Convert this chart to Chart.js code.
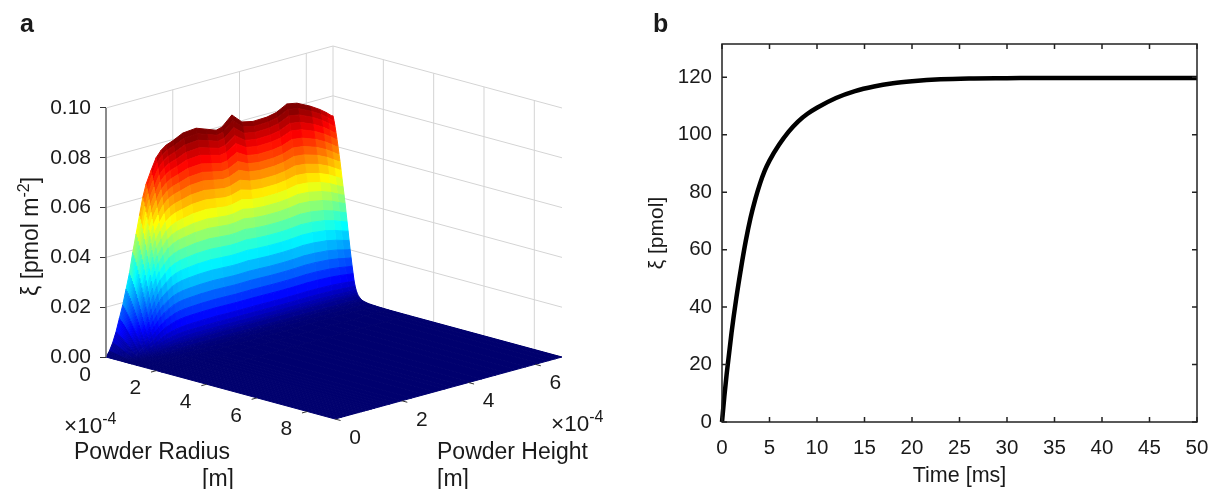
<!DOCTYPE html>
<html>
<head>
<meta charset="utf-8">
<script src="https://cdn.jsdelivr.net/npm/chart.js"></script>
<style>
    html, body { margin: 0; padding: 0; background: #fff; }
    canvas { position: absolute; top: 0; }
    #surface { left: 0; }
    #uptake { left: 610px; }
</style>
</head>
<body>
<canvas id="surface" width="610" height="489"></canvas>
<canvas id="uptake" width="599" height="489"></canvas>
<script>
// panel a. radius and height are in 1e-4 m
const radiusTicks = [0, 2, 4, 6, 8];
const heightTicks = [0, 2, 4, 6];
const xiTicks = [0, 0.02, 0.04, 0.06, 0.08, 0.10];
const radiusMax = 9.1;
const heightMax = 6.8;

// xi along the ridge (radius 0) at each height
const heightGrid = [0, .1, .2, .3, .4, .5, .6, .7, .8, .9, 1, 1.1, 1.2, 1.35, 1.5, 1.65, 1.8, 2, 2.3, 2.7, 3, 3.3, 3.47, 3.77, 4.07, 4.4, 4.82, 5.1, 5.42, 5.72, 6.11, 6.4, 6.6, 6.77, 6.8];
const ridgeXi = [0, .002, .005, .009, .014, .019, .025, .031, .039, .046, .053, .060, .065, .070, .0745, .077, .0785, .0795, .0815, .082, .0805, .079, .0796, .0834, .0795, .0785, .0787, .0795, .0818, .081, .0784, .076, .074, .072, .072];
// same line as seen in the lower bands, where the spike has died away
const lowerBandXi = [0, .002, .005, .009, .014, .019, .025, .031, .039, .046, .053, .060, .065, .070, .0745, .077, .0785, .0795, .0805, .081, .0805, .0800, .0800, .0802, .0800, .0795, .0795, .0800, .0808, .0805, .0790, .0765, .074, .072, .072];

// how far xi has dropped from the ridge at each radius
const radiusGrid = [0, .04, .08, .12, .16, .2, .24, .28, .32, .36, .4, .44, .48, .52, .56, .6, .64, .68, .72, .76, .8, .84, .88, .92, .96, 1, 1.1, 1.2, 1.4, 1.7, 2.2, 3, 9.1];
const radiusFalloff = [1, .975, .945, .91, .875, .835, .795, .755, .71, .665, .62, .575, .53, .48, .43, .38, .33, .28, .235, .19, .15, .11, .083, .062, .047, .036, .02, .012, .006, .003, .001, .0005, 0];

// panel b
const timeMs = [0, .25, .5, 1, 1.5, 2, 2.5, 3, 3.5, 4, 4.5, 5, 6, 7, 8, 9, 10, 12, 14, 16, 18, 20, 23, 26, 30, 35, 40, 45, 50];
const xiPmol = [0, 9, 17, 31, 43, 53.5, 63, 71, 77.5, 83, 87.5, 91, 96.5, 101, 104.6, 107.3, 109.4, 112.8, 115.2, 116.8, 117.9, 118.6, 119.3, 119.6, 119.7, 119.8, 119.8, 119.8, 119.8];

const FONT = '"Liberation Sans", Arial, sans-serif';
const colorTop = 0.079;

// orthographic view of the 3d box onto the x/y scales of the chart
function project(r, h, z) {
    return {
        x: r * 229 / radiusMax + h * 227 / heightMax,
        y: z - r * 0.002735 + h * 0.00366
    };
}

function jet(t) {
    t = Math.min(1, t);
    const c = v => Math.round(255 * Math.min(1, Math.max(0, v)));
    // the navy end of the picture is a bit darker than plain jet
    const blue = t < 0.125 ? 0.43 + 4.56 * t : 1.5 - Math.abs(4 * t - 1);
    return 'rgb(' + c(1.5 - Math.abs(4 * t - 3)) + ',' + c(1.5 - Math.abs(4 * t - 2)) + ',' + c(blue) + ')';
}

function lineSet(points, color, width) {
    return {
        data: points, showLine: true, pointRadius: 0, borderColor: color,
        borderWidth: width, clip: false, fill: false
    };
}

function quadSet(a, b, c, d, color) {
    return {
        data: [a, b, c, d, a], showLine: true, pointRadius: 0, clip: false,
        borderColor: color, borderWidth: 1, backgroundColor: color, fill: 'shape'
    };
}

function buildSurfaceDatasets() {
    const sets = [];
    const wall = '#d4d4d4';

    // back walls
    xiTicks.forEach(z => {
        sets.push(lineSet([project(0, 0, z), project(0, heightMax, z), project(radiusMax, heightMax, z)], wall, 1));
    });
    heightTicks.slice(1).concat(heightMax).forEach(h => {
        sets.push(lineSet([project(0, h, 0), project(0, h, 0.1)], wall, 1));
    });
    radiusTicks.slice(1).forEach(r => {
        sets.push(lineSet([project(r, heightMax, 0), project(r, heightMax, 0.1)], wall, 1));
    });

    // surface, back to front. the spike only shows in the top rows
    const zAt = (i, j) => {
        const f = radiusFalloff[i];
        return f * (f * f * ridgeXi[j] + (1 - f * f) * lowerBandXi[j]);
    };
    for (let i = 0; i < radiusGrid.length - 1; i++) {
        for (let j = heightGrid.length - 2; j >= 0; j--) {
            const mean = (zAt(i, j) + zAt(i + 1, j) + zAt(i, j + 1) + zAt(i + 1, j + 1)) / 4;
            sets.push(quadSet(
                project(radiusGrid[i], heightGrid[j], zAt(i, j)),
                project(radiusGrid[i], heightGrid[j + 1], zAt(i, j + 1)),
                project(radiusGrid[i + 1], heightGrid[j + 1], zAt(i + 1, j + 1)),
                project(radiusGrid[i + 1], heightGrid[j], zAt(i + 1, j)),
                jet(mean / colorTop)
            ));
        }
    }

    // z axis and the little ticks on the floor edges
    sets.push(lineSet([project(0, 0, 0), project(0, 0, 0.1)], '#6e6e6e', 1.6));
    radiusTicks.slice(1).forEach(r => {
        sets.push(lineSet([project(r, 0, 0), project(r, -0.16, 0)], '#333', 1));
    });
    heightTicks.forEach(h => {
        sets.push(lineSet([project(radiusMax, h, 0), project(radiusMax + 0.22, h, 0)], '#333', 1));
    });

    // chart.js paints the last dataset first
    return sets.reverse();
}

// text with a raised part, optionally turned 90 degrees
function richText(ctx, x, y, parts, rotated) {
    ctx.save();
    ctx.translate(x, y);
    if (rotated) ctx.rotate(-Math.PI / 2);
    ctx.textAlign = 'left';
    ctx.textBaseline = 'alphabetic';
    ctx.fillStyle = '#1a1a1a';
    let pos = 0;
    parts.forEach(p => {
        ctx.font = (p.weight || '') + ' ' + p.size + 'px ' + FONT;
        ctx.fillText(p.text, pos, p.rise ? -p.rise : 0);
        pos += ctx.measureText(p.text).width;
    });
    ctx.restore();
}

const surfaceText = {
    id: 'surfaceText',
    afterDraw(chart) {
        const ctx = chart.ctx;
        const sx = chart.scales.x;
        const sy = chart.scales.y;
        ctx.save();
        ctx.font = '21px ' + FONT;
        ctx.fillStyle = '#1a1a1a';
        ctx.textAlign = 'center';
        ctx.textBaseline = 'middle';
        radiusTicks.forEach(r => {
            const p = project(r, 0, 0);
            ctx.fillText(String(r), sx.getPixelForValue(p.x) - 21, sy.getPixelForValue(p.y) + 18);
        });
        heightTicks.forEach(h => {
            const p = project(radiusMax, h, 0);
            ctx.fillText(String(h), sx.getPixelForValue(p.x) + 20, sy.getPixelForValue(p.y) + 19);
        });
        ctx.restore();

        richText(ctx, 20, 32, [{ text: 'a', size: 25, weight: 'bold' }]);
        richText(ctx, 38, 296, [{ text: 'ξ [pmol m', size: 23 }, { text: '-2', size: 16, rise: 9 }, { text: ']', size: 23 }], true);
        richText(ctx, 64, 433, [{ text: '×10', size: 22.5 }, { text: '-4', size: 16, rise: 9 }]);
        richText(ctx, 551, 431, [{ text: '×10', size: 22.5 }, { text: '-4', size: 16, rise: 9 }]);
        richText(ctx, 74, 459, [{ text: 'Powder Radius', size: 23 }]);
        richText(ctx, 202, 486, [{ text: '[m]', size: 23 }]);
        richText(ctx, 437, 459, [{ text: 'Powder Height', size: 23 }]);
        richText(ctx, 437, 486, [{ text: '[m]', size: 23 }]);
    }
};

new Chart(document.getElementById('surface'), {
    type: 'scatter',
    data: { datasets: buildSurfaceDatasets() },
    options: {
        responsive: false,
        animation: false,
        events: [],
        layout: { padding: { top: 40, bottom: 64, right: 48, left: 0 } },
        plugins: { legend: { display: false }, tooltip: { enabled: false } },
        scales: {
            x: { type: 'linear', display: false, min: 0, max: 456 },
            y: {
                type: 'linear',
                min: -0.0273,
                max: 0.1273,
                afterFit(scale) { scale.width = 106; },
                afterBuildTicks(scale) { scale.ticks = xiTicks.map(v => ({ value: v })); },
                border: { display: false },
                grid: { drawOnChartArea: false, tickLength: 6, tickColor: '#333', tickWidth: 1 },
                ticks: {
                    autoSkip: false,
                    padding: 9,
                    color: '#1a1a1a',
                    font: { family: FONT, size: 21 },
                    callback: v => v.toFixed(2)
                }
            }
        }
    },
    plugins: [surfaceText]
});

// frame and inward ticks of panel b
const frameTicks = {
    id: 'frameTicks',
    afterDraw(chart) {
        const ctx = chart.ctx;
        const { left, right, top, bottom } = chart.chartArea;
        const len = 5;
        ctx.save();
        ctx.strokeStyle = '#222';
        ctx.lineWidth = 1.5;
        ctx.strokeRect(left, top, right - left, bottom - top);
        ctx.beginPath();
        chart.scales.x.ticks.forEach(t => {
            const x = chart.scales.x.getPixelForValue(t.value);
            ctx.moveTo(x, bottom); ctx.lineTo(x, bottom - len);
            ctx.moveTo(x, top); ctx.lineTo(x, top + len);
        });
        chart.scales.y.ticks.forEach(t => {
            const y = chart.scales.y.getPixelForValue(t.value);
            ctx.moveTo(left, y); ctx.lineTo(left + len, y);
            ctx.moveTo(right, y); ctx.lineTo(right - len, y);
        });
        ctx.stroke();
        ctx.restore();
        richText(ctx, 43, 32, [{ text: 'b', size: 25, weight: 'bold' }]);
    }
};

new Chart(document.getElementById('uptake'), {
    type: 'line',
    data: {
        datasets: [{
            data: timeMs.map((t, i) => ({ x: t, y: xiPmol[i] })),
            borderColor: '#000',
            borderWidth: 4.5,
            pointRadius: 0,
            cubicInterpolationMode: 'monotone',
            clip: false
        }]
    },
    options: {
        responsive: false,
        animation: false,
        events: [],
        layout: { padding: { top: 44, right: 12, bottom: 0, left: 0 } },
        plugins: { legend: { display: false }, tooltip: { enabled: false } },
        scales: {
            x: {
                type: 'linear',
                min: 0,
                max: 50,
                afterFit(scale) {
                    scale.height = 67;
                    // the last label may hang over, the window is wide enough
                    scale.paddingRight = 0;
                    scale.paddingLeft = 0;
                },
                grid: { display: false, drawTicks: false },
                border: { display: false },
                ticks: {
                    stepSize: 5, padding: 14, maxRotation: 0, autoSkip: false,
                    color: '#1a1a1a', font: { family: FONT, size: 20.5 }
                },
                title: {
                    display: true, text: 'Time [ms]', color: '#1a1a1a',
                    font: { family: FONT, size: 21.5 }, padding: { top: 0, bottom: 0 }
                }
            },
            y: {
                type: 'linear',
                min: 0,
                max: 131.6,
                afterFit(scale) { scale.width = 112; },
                grid: { display: false, drawTicks: false },
                border: { display: false },
                ticks: {
                    stepSize: 20, padding: 10, includeBounds: false,
                    color: '#1a1a1a', font: { family: FONT, size: 20.5 }
                },
                title: {
                    display: true, text: 'ξ [pmol]', color: '#1a1a1a',
                    font: { family: FONT, size: 21 }, padding: { top: 35, bottom: 0 }
                }
            }
        }
    },
    plugins: [frameTicks]
});
</script>
</body>
</html>
